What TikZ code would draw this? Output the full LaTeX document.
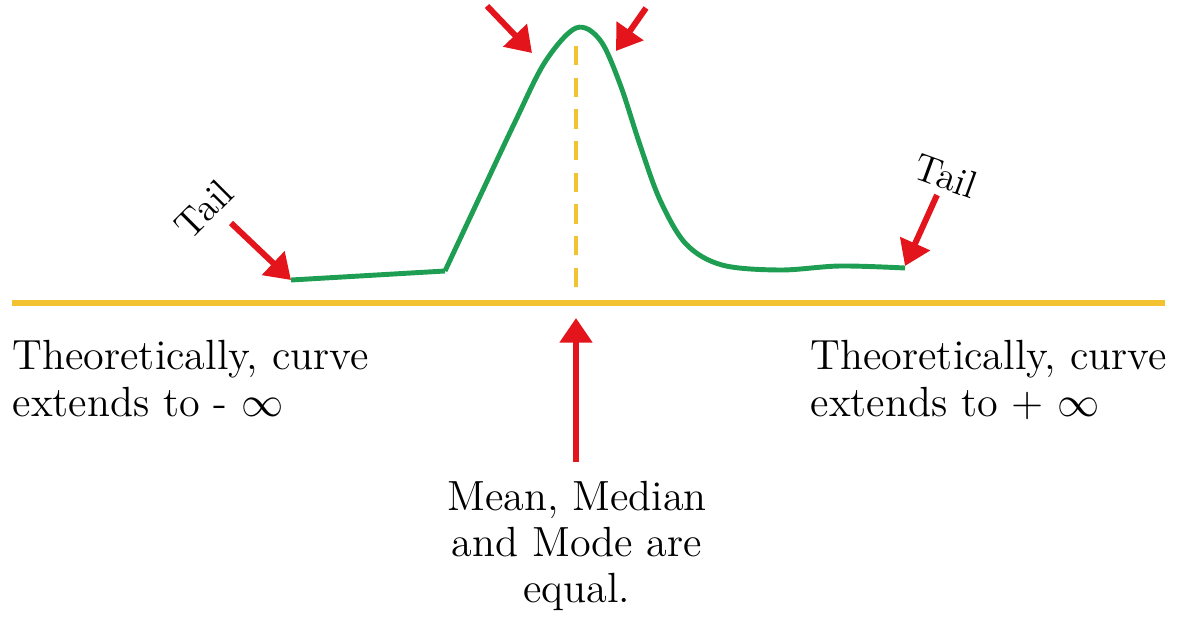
\documentclass[tikz,border=0pt]{standalone}
\usepackage{tikz}
\usetikzlibrary{arrows.meta, positioning, calc}
\definecolor{cGreen}{HTML}{1E9E52}
\definecolor{cGold}{HTML}{F2C230}
\definecolor{cRed}{HTML}{E3141C}

\begin{document}
\begin{tikzpicture}[
  x=0.01cm, y=-0.01cm,
  every node/.style={font=\fontsize{12}{13.2}\selectfont},
  axis/.style={line width=1.7pt, color=cGold},
  curve/.style={line width=1.4pt, color=cGreen},
  meanline/.style={line width=1.3pt, color=cGold, dash pattern=on 5.5pt off 3.5pt},
  arrow/.style={-{Triangle[length=7pt, width=9pt]}, line width=1.7pt, color=cRed},
  note/.style={align=left, inner sep=0pt},
  tail/.style={font=\fontsize{11}{12}\selectfont, inner sep=1pt},
]
\useasboundingbox (0,0) rectangle (1179,618);

% Coordinates
\coordinate (axl) at (12,303);
\coordinate (axr) at (1165,303);
\coordinate (tl) at (291,280);
\coordinate (kink) at (445,271);
\coordinate (tr) at (905,266);
\coordinate (mtop) at (576,46);
\coordinate (mbot) at (576,292);
\coordinate (pl) at (532,53);
\coordinate (pr) at (616,51);
\coordinate (pla) at (487,6);
\coordinate (pra) at (646,8);
\coordinate (tla) at (231,223);
\coordinate (tra) at (937,195);
\coordinate (mup) at (576,318);

% Axis and curve
\draw[axis] (axl) -- (axr);
\draw[meanline] (mtop) -- (mbot);
\draw[curve] (tl) -- (kink);
\draw[curve] plot[smooth, tension=0.55] coordinates {(445,271) (482,192) (515,122) (545,62) (576,28) (600,40) (620,84) (640,145) (660,200) (686,244) (722,265) (780,270) (840,266) (905,268)};

% Nodes
\node[tail, rotate=45] (taill) at (204,209) {Tail};
\node[tail, rotate=-20] (tailr) at (946,176) {Tail};
\node[note, anchor=north west] (left) at (12,340) {Theoretically, curve\\extends to - $\infty$};
\node[note, anchor=north west] (right) at (810,340) {Theoretically, curve\\extends to + $\infty$};
\node[align=center, inner sep=0pt, anchor=north] (mmm) at (577,480) {Mean, Median\\and Mode are\\equal.};

% Arrows
\draw[arrow] (pla) -- (pl);
\draw[arrow] (pra) -- (pr);
\draw[arrow] (tla) -- (tl);
\draw[arrow] (tra) -- (tr);
\draw[arrow] (mmm.north) ++(-1,-18) -- (mup);

\end{tikzpicture}
\end{document}
